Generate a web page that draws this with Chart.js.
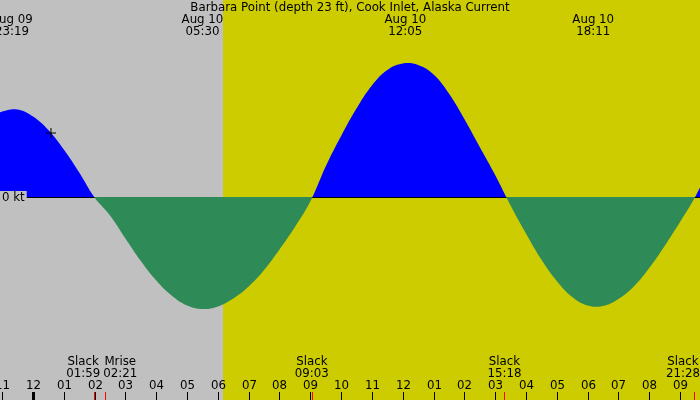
<!DOCTYPE html>
<html>
<head>
<meta charset="utf-8">
<script src="https://cdn.jsdelivr.net/npm/chart.js@4"></script>
<style>
  body { margin: 0; background: #fff; }
  canvas { display: block; }
</style>
</head>
<body>
<canvas id="myChart" width="700" height="400"></canvas>
<script>
// hours from midnight Aug 10 (negative = Aug 09)
const hours = [-1.5, -1, -0.5, 0, 0.5, 1, 1.5, 2, 2.5, 3, 3.5, 4, 4.5, 5, 5.5, 6,
  6.5, 7, 7.5, 8, 8.5, 9, 9.5, 10, 10.5, 11, 11.5, 12, 12.5, 13, 13.5, 14,
  14.5, 15, 15.5, 16, 16.5, 17, 17.5, 18, 18.5, 19, 19.5, 20, 20.5, 21, 21.5, 22];
// current in knots, flood positive
const speeds = [1.54, 1.71, 1.75, 1.61, 1.34, 0.95, 0.49, -0.01, -0.37, -0.83, -1.28, -1.67,
  -1.97, -2.17, -2.24, -2.19, -2.03, -1.79, -1.46, -1.05, -0.60, -0.09, 0.61, 1.22,
  1.77, 2.23, 2.54, 2.67, 2.64, 2.45, 2.07, 1.56, 1.00, 0.44, -0.17, -0.73,
  -1.25, -1.68, -2.00, -2.17, -2.18, -2.04, -1.79, -1.42, -0.98, -0.50, 0.01, 0.65];

const hourLabels = ["11", "12", "01", "02", "03", "04", "05", "06", "07", "08", "09", "10",
  "11", "12", "01", "02", "03", "04", "05", "06", "07", "08", "09"];
const firstHour = -1;

const extremeDates = ["Aug 09", "Aug 10", "Aug 10", "Aug 10"];
const extremeTimes = ["23:19", "05:30", "12:05", "18:11"];

const eventNames = ["Slack", "Mrise", "Slack", "Slack", "Slack"];
const eventTimes = ["01:59", "02:21", "09:03", "15:18", "21:28"];

const sunrise = "06:10";
const markerTime = "00:35";
const markerSpeed = 1.28;

const title = "Barbara Point (depth 23 ft), Cook Inlet, Alaska Current";

function toHours(time, date) {
  const p = time.split(":");
  let h = parseInt(p[0]) + parseInt(p[1]) / 60;
  if (date === "Aug 09") h -= 24;
  return h;
}

const FONT = "11.8px 'DejaVu Sans'";
const night = "#c0c0c0";
const day = "#cccc00";

const backgroundPlugin = {
  id: "bands",
  beforeDraw(chart) {
    const ctx = chart.ctx;
    const x = chart.scales.x;
    ctx.save();
    ctx.fillStyle = day;
    ctx.fillRect(0, 0, chart.width, chart.height);
    ctx.fillStyle = night;
    const sr = Math.round(x.getPixelForValue(toHours(sunrise)));
    ctx.fillRect(0, 0, sr, chart.height);
    ctx.restore();
  },
  beforeDatasetsDraw(chart) {
    const ctx = chart.ctx;
    const y0 = Math.round(chart.scales.y.getPixelForValue(0));
    ctx.save();
    ctx.fillStyle = "#000";
    ctx.fillRect(26, y0, chart.width - 26, 1);
    ctx.restore();
  },
  afterDraw(chart) {
    const ctx = chart.ctx;
    const x = chart.scales.x;
    const W = chart.width;
    const y0 = Math.round(chart.scales.y.getPixelForValue(0));
    ctx.save();
    ctx.font = FONT;
    ctx.textBaseline = "middle";

    // zero label sits on its own patch of background
    ctx.textAlign = "left";
    const zw = ctx.measureText("0 kt").width;
    ctx.fillStyle = night;
    ctx.fillRect(0, y0 - 6, zw + 4, 13);
    ctx.fillStyle = "#000";
    ctx.fillText("0 kt", 2, y0 + 0.5);

    ctx.textAlign = "center";
    ctx.fillText(title, W / 2, 7.5);

    // max / min times at the top
    extremeTimes.forEach((t, i) => {
      const px = x.getPixelForValue(toHours(t, extremeDates[i]));
      ctx.fillText(extremeDates[i], px, 20);
      ctx.fillText(t, px, 32);
    });

    // hour labels and ticks
    hourLabels.forEach((lab, i) => {
      const h = firstHour + i;
      const px = Math.round(x.getPixelForValue(h));
      ctx.fillText(lab, px + 0.5, 385.5);
      const w = h % 24 === 0 ? 3 : 1;
      ctx.fillRect(px - Math.floor(w / 2), 392, w, 8);
    });

    // events (slack, moonrise), pushed apart when they collide
    const groups = eventTimes.map((t, i) => {
      const px = x.getPixelForValue(toHours(t));
      const w = Math.max(ctx.measureText(eventNames[i]).width, ctx.measureText(t).width);
      return { px: px, w: w, left: px - w / 2 };
    });
    for (let i = 1; i < groups.length; i++) {
      const a = groups[i - 1], b = groups[i];
      if (a.left + a.w + 3 > b.left) {
        const mid = (a.px + b.px) / 2 + 1;
        a.left = mid - a.w - 0.5;
        b.left = mid + 2.5;
      }
    }
    groups.forEach((g, i) => {
      if (g.left + g.w > W) g.left = W - g.w;
      const cx = g.left + g.w / 2;
      ctx.fillStyle = "#000";
      ctx.fillText(eventNames[i], cx, 362);
      ctx.fillText(eventTimes[i], cx, 373.5);
      ctx.fillStyle = "#ff0000";
      ctx.fillRect(Math.round(g.px), 392, 1, 8);
    });
    ctx.restore();
  }
};

const data = {
  datasets: [
    {
      label: "current",
      data: hours.map((h, i) => ({ x: h, y: speeds[i] })),
      borderWidth: 0,
      pointRadius: 0,
      tension: 0.4,
      fill: { target: "origin", above: "#0000ff", below: "#2e8b57" },
      order: 2
    },
    {
      label: "now",
      type: "scatter",
      data: [{ x: toHours(markerTime), y: markerSpeed }],
      pointStyle: "cross",
      pointRadius: 5,
      borderColor: "#000",
      borderWidth: 1,
      order: 1
    }
  ]
};

const config = {
  type: "line",
  data: data,
  options: {
    responsive: false,
    animation: false,
    devicePixelRatio: 1,
    layout: { padding: 0, autoPadding: false },
    plugins: { legend: { display: false }, tooltip: { enabled: false } },
    scales: {
      x: { type: "linear", display: false, min: -33 / 30.81, max: (700 - 33) / 30.81 },
      y: { display: false, min: -4.06, max: 3.94 }
    }
  },
  plugins: [backgroundPlugin]
};

var myChart = new Chart(document.getElementById("myChart"), config);
</script>
</body>
</html>
